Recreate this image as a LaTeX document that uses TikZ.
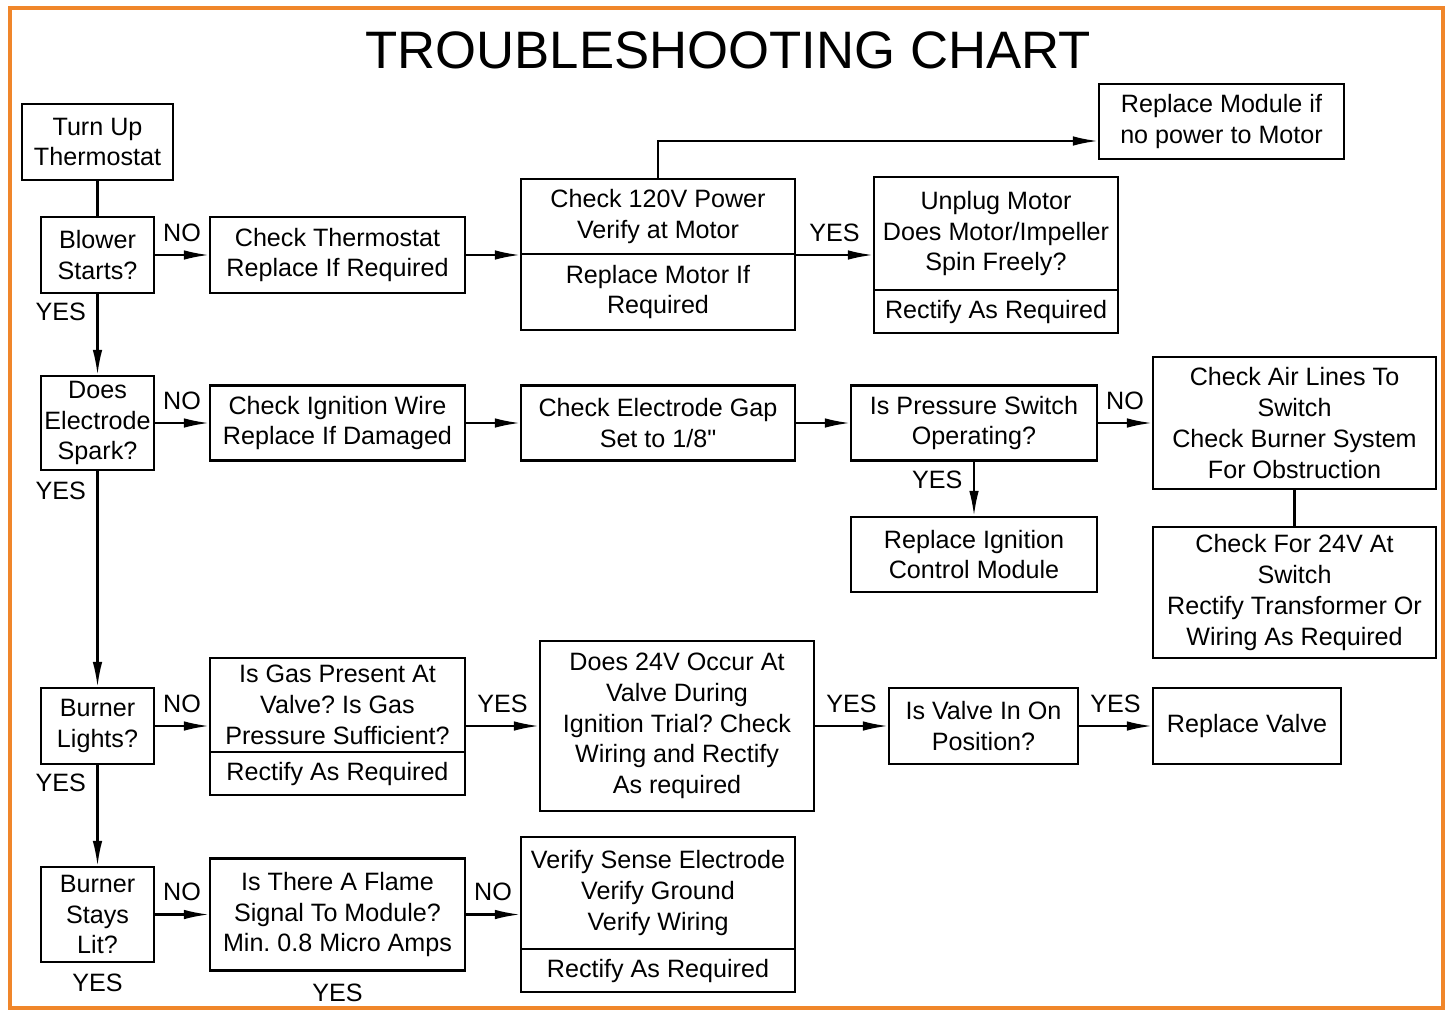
\documentclass[tikz,border=0pt]{standalone}
\usepackage{fontspec}
\setmainfont{Liberation Sans}
\usetikzlibrary{arrows.meta,positioning}

\definecolor{frameorange}{RGB}{240,134,42}
\newcommand{\inchmark}{{\addfontfeature{Ligatures=TeXOff}"}}
\frenchspacing

\begin{document}
\begin{tikzpicture}[x=0.02cm, y=-0.02cm,
    box/.style={draw, line width=1.2pt, align=center, inner sep=1pt, font=\fontsize{14.3}{17.5}\selectfont},
    arr/.style={-{Latex[length=0.5cm, width=0.19cm]}, line width=1.2pt},
    conn/.style={line width=1.2pt},
    lbl/.style={font=\fontsize{14.3}{17.5}\selectfont, inner sep=2pt}
]
\useasboundingbox (0,0) rectangle (1450,1011);
\draw[frameorange, line width=2.3pt] (10,8) rectangle (1443,1008);

\node[font=\fontsize{30}{36}\selectfont] (title) at (728,50) {TROUBLESHOOTING CHART};

% row 1
\node[box, minimum width=3.02cm, minimum height=1.52cm] (thermo) at (97.5,142) {Turn Up\\Thermostat};
\node[box, minimum width=2.26cm, minimum height=1.52cm] (blower) at (97.5,255) {Blower\\Starts?};
\node[box, minimum width=5.10cm, minimum height=1.52cm] (chkthermo) at (337.5,255) {Check Thermostat\\Replace If Required};
\node[box, minimum width=5.48cm, minimum height=1.50cm] (pwrtop) at (658,216.5) {Check 120V Power\\Verify at Motor};
\node[box, minimum width=5.48cm, minimum height=1.52cm] (pwrbot) at (658,292) {Replace Motor If\\Required};
\node[box, minimum width=4.88cm, minimum height=2.26cm] (unplugtop) at (996,233.5) {Unplug Motor\\Does Motor/Impeller\\Spin Freely?};
\node[box, minimum width=4.88cm, minimum height=0.86cm] (unplugbot) at (996,311.5) {Rectify As Required};
\node[box, minimum width=4.90cm, minimum height=1.50cm] (replmod) at (1221.5,121.5) {Replace Module if\\no power to Motor};

% row 2
\node[box, minimum width=2.26cm, minimum height=1.88cm] (electrode) at (97.5,423) {Does\\Electrode\\Spark?};
\node[box, minimum width=5.10cm, minimum height=1.50cm] (ignwire) at (337.5,423) {Check Ignition Wire\\Replace If Damaged};
\node[box, minimum width=5.48cm, minimum height=1.50cm] (gap) at (658,423) {Check Electrode Gap\\Set to 1/8\inchmark};
\node[box, minimum width=4.92cm, minimum height=1.50cm] (pressure) at (974,423) {Is Pressure Switch\\Operating?};
\node[box, minimum width=5.66cm, minimum height=2.64cm] (airlines) at (1294.5,423) {Check Air Lines To\\Switch\\Check Burner System\\For Obstruction};
\node[box, minimum width=4.92cm, minimum height=1.50cm] (replign) at (974,554.5) {Replace Ignition\\Control Module};
\node[box, minimum width=5.66cm, minimum height=2.62cm] (chkvolt) at (1294.5,592.5) {Check For 24V At\\Switch\\Rectify Transformer Or\\Wiring As Required};

% row 3
\node[box, minimum width=2.26cm, minimum height=1.52cm] (burner) at (97.5,726) {Burner\\Lights?};
\node[box, minimum width=5.10cm, minimum height=1.88cm] (gastop) at (337.5,705) {Is Gas Present At\\Valve? Is Gas\\Pressure Sufficient?};
\node[box, minimum width=5.10cm, minimum height=0.86cm] (gasbot) at (337.5,773.5) {Rectify As Required};
\node[box, minimum width=5.48cm, minimum height=3.40cm] (occur) at (677,726) {Does 24V Occur At\\Valve During\\Ignition Trial? Check\\Wiring and Rectify\\As required};
\node[box, minimum width=3.78cm, minimum height=1.52cm] (valveon) at (983.5,726) {Is Valve In On\\Position?};
\node[box, minimum width=3.76cm, minimum height=1.52cm] (replvalve) at (1247,726) {Replace Valve};

% row 4
\node[box, minimum width=2.26cm, minimum height=1.90cm] (stays) at (97.5,914.5) {Burner\\Stays\\Lit?};
\node[box, minimum width=5.10cm, minimum height=2.24cm] (flame) at (337.5,914.5) {Is There A Flame\\Signal To Module?\\Min. 0.8 Micro Amps};
\node[box, minimum width=5.48cm, minimum height=2.24cm] (sensetop) at (658,893) {Verify Sense Electrode\\Verify Ground\\Verify Wiring};
\node[box, minimum width=5.48cm, minimum height=0.86cm] (sensebot) at (658,970.5) {Rectify As Required};
\node[lbl, below=4pt of stays] (staysyes) {YES};
\node[lbl, below=5pt of flame] (flameyes) {YES};

% connectors
\draw[conn] (thermo) -- (blower);
\draw[arr] (blower) -- node[lbl, above=5pt] (no1) {NO} (chkthermo);
\draw[arr] (chkthermo.east) -- (chkthermo.east -| pwrtop.west);
\draw[arr] (chkthermo.east -| pwrtop.east) -- node[lbl, above=5pt] (yes1) {YES} (chkthermo.east -| unplugtop.west);
\draw[arr] (pwrtop.north) |- ([yshift=-0.39cm]replmod.west);
\draw[arr] (blower) -- node[lbl, left=4pt, pos=0.22] (yes2) {YES} (electrode);

\draw[arr] (electrode) -- node[lbl, above=5pt] (no2) {NO} (ignwire);
\draw[arr] (ignwire) -- (gap);
\draw[arr] (gap) -- (pressure);
\draw[arr] (pressure) -- node[lbl, above=5pt] (no3) {NO} (airlines);
\draw[arr] (pressure) -- node[lbl, left=4pt, pos=0.33] (yes3) {YES} (replign);
\draw[conn] (airlines) -- (chkvolt);
\draw[arr] (electrode) -- node[lbl, left=4pt, pos=0.09] (yes4) {YES} (burner);

\draw[arr] (burner.east) -- node[lbl, above=5pt] (no4) {NO} (burner.east -| gastop.west);
\draw[arr] (burner.east -| gastop.east) -- node[lbl, above=5pt] (yes5) {YES} (occur.west);
\draw[arr] (occur) -- node[lbl, above=5pt] (yes6) {YES} (valveon);
\draw[arr] (valveon) -- node[lbl, above=5pt] (yes7) {YES} (replvalve);
\draw[arr] (burner) -- node[lbl, left=4pt, pos=0.18] (yes8) {YES} (stays);

\draw[arr] (stays) -- node[lbl, above=5pt] (no5) {NO} (flame);
\draw[arr] (flame.east) -- node[lbl, above=5pt] (no6) {NO} (flame.east -| sensetop.west);
\end{tikzpicture}
\end{document}
